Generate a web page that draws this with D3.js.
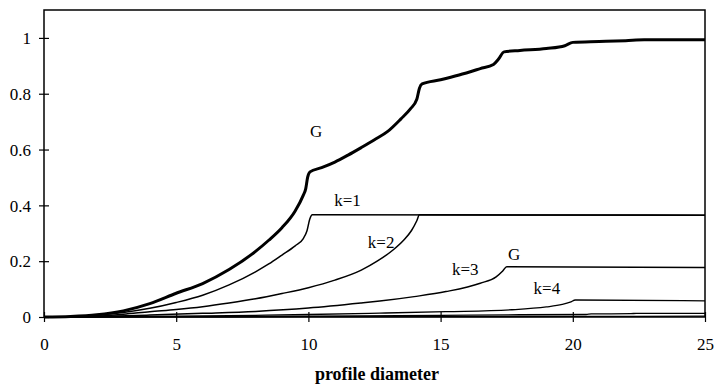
<!DOCTYPE html>
<html>
<head>
<meta charset="utf-8">
<script src="https://cdn.jsdelivr.net/npm/d3@7"></script>
<style>
  body { margin: 0; background: #fff; overflow: hidden; }
  svg { display: block; }
  svg text { font-family: "Liberation Serif", "Times New Roman", serif; fill: #000; }
</style>
</head>
<body>
<div id="chart"></div>
<script>
// profile diameter (x) vs value (y)
const G  = [[0,0],[1,0.002],[2,0.008],[3,0.022],[4,0.048],[5,0.085],[6,0.12],[7,0.17],[8,0.235],[8.5,0.275],[9,0.32],[9.5,0.38],[9.8,0.435],[9.9,0.46],[9.97,0.5],[10.06,0.52],[10.5,0.535],[11,0.555],[11.5,0.58],[12,0.607],[12.5,0.635],[13,0.665],[13.5,0.71],[13.85,0.745],[14.1,0.78],[14.2,0.82],[14.3,0.835],[15,0.85],[15.7,0.867],[16.5,0.89],[17,0.905],[17.2,0.925],[17.4,0.95],[18,0.955],[19,0.962],[19.7,0.972],[20,0.984],[21,0.987],[22,0.99],[22.7,0.993],[25,0.993]];
const k1 = [[0,0],[1,0.001],[2,0.006],[3,0.016],[4,0.031],[5,0.052],[6,0.078],[7,0.115],[8,0.162],[8.5,0.19],[9,0.222],[9.5,0.255],[9.8,0.28],[9.95,0.31],[10.05,0.35],[10.15,0.366],[25,0.365]];
const k2 = [[0,0],[2,0.003],[3,0.01],[4,0.019],[5,0.027],[6,0.037],[7,0.05],[8,0.065],[9,0.084],[10,0.105],[11,0.132],[12,0.168],[12.6,0.2],[13.2,0.24],[13.6,0.275],[13.9,0.31],[14.1,0.345],[14.2,0.366],[25,0.365]];
const k3 = [[0,0],[2,0.002],[4,0.007],[6,0.013],[8,0.02],[10,0.032],[12,0.05],[12.7,0.057],[14,0.073],[15.2,0.091],[16.5,0.121],[17.1,0.144],[17.35,0.165],[17.5,0.18],[25,0.177]];
const k4 = [[0,0],[5,0.003],[8,0.006],[10,0.009],[12.7,0.014],[15.2,0.019],[17.7,0.026],[19,0.036],[19.6,0.045],[19.9,0.053],[20.1,0.061],[25,0.058]];
const k5 = [[0,0],[5,0.001],[10,0.003],[15,0.006],[18,0.008],[20.5,0.009],[20.7,0.011],[22.2,0.012],[22.4,0.013],[25,0.013]];
const k6 = [[0,0],[10,0.001],[20,0.002],[25,0.003]];

const xTicks = [0, 5, 10, 15, 20, 25];
const yTicks = [0, 0.2, 0.4, 0.6, 0.8, 1];

// curve labels: text, x, y (data units)
const labels = [
  ["G", 10.29, 0.645],
  ["k=1", 11.48, 0.398],
  ["k=2", 12.75, 0.247],
  ["G", 17.78, 0.204],
  ["k=3", 15.93, 0.151],
  ["k=4", 19.02, 0.082]
];

const width = 718, height = 386;
const margin = { left: 44, right: 13, top: 10, bottom: 69 };
const innerWidth = width - margin.left - margin.right;
const innerHeight = height - margin.top - margin.bottom;

const svg = d3.select("#chart").append("svg")
  .attr("width", width)
  .attr("height", height);

const g = svg.append("g")
  .attr("transform", `translate(${margin.left}, ${margin.top})`);

const x = d3.scaleLinear().domain([0, 25]).range([0, innerWidth]);
const y = d3.scaleLinear().domain([0, 1.1]).range([innerHeight, 0]);

// frame
g.append("rect")
  .attr("x", 0).attr("y", 0)
  .attr("width", innerWidth).attr("height", innerHeight)
  .attr("fill", "none").attr("stroke", "#000").attr("stroke-width", 1.5);

// axes (ticks cross the frame)
const xAxis = g.append("g")
  .attr("transform", `translate(0, ${innerHeight})`)
  .call(d3.axisBottom(x).tickValues(xTicks).tickSize(5).tickPadding(0).tickFormat(d3.format("d")))
  .attr("font-family", "Liberation Serif")
  .attr("font-size", 17);
xAxis.select(".domain").remove();
xAxis.selectAll("line").attr("y1", -5).attr("y2", 5).attr("stroke-width", 1.2);
xAxis.selectAll("text").attr("y", 33).attr("dy", 0);

const yAxis = g.append("g")
  .call(d3.axisLeft(y).tickValues(yTicks).tickSize(5).tickFormat(d => d3.format("~g")(d)))
  .attr("font-family", "Liberation Serif")
  .attr("font-size", 17);
yAxis.select(".domain").remove();
yAxis.selectAll("line").attr("x1", 5).attr("x2", -5).attr("stroke-width", 1.2);
yAxis.selectAll("text").attr("x", -13).attr("dy", "0.34em");

// lines
const line = d3.line()
  .x(d => x(d[0]))
  .y(d => y(d[1]))
  .curve(d3.curveMonotoneX);

const series = [
  { data: k6, w: 1.3 },
  { data: k5, w: 1.3 },
  { data: k4, w: 1.3 },
  { data: k3, w: 1.5 },
  { data: k2, w: 1.5 },
  { data: k1, w: 1.5 },
  { data: G,  w: 3 }
];

g.selectAll("path.series")
  .data(series)
  .enter()
  .append("path")
  .attr("class", "series")
  .attr("d", d => line(d.data))
  .attr("fill", "none")
  .attr("stroke", "#000")
  .attr("stroke-width", d => d.w)
  .attr("stroke-linejoin", "round");

// curve labels
g.selectAll("text.lbl")
  .data(labels)
  .enter()
  .append("text")
  .attr("class", "lbl")
  .attr("x", d => x(d[1]))
  .attr("y", d => y(d[2]))
  .attr("text-anchor", "middle")
  .style("font-size", "17px")
  .text(d => d[0]);

// axis title
svg.append("text")
  .attr("x", 377)
  .attr("y", 380)
  .attr("text-anchor", "middle")
  .style("font-size", "18px")
  .style("font-weight", "bold")
  .text("profile diameter");
</script>
</body>
</html>
